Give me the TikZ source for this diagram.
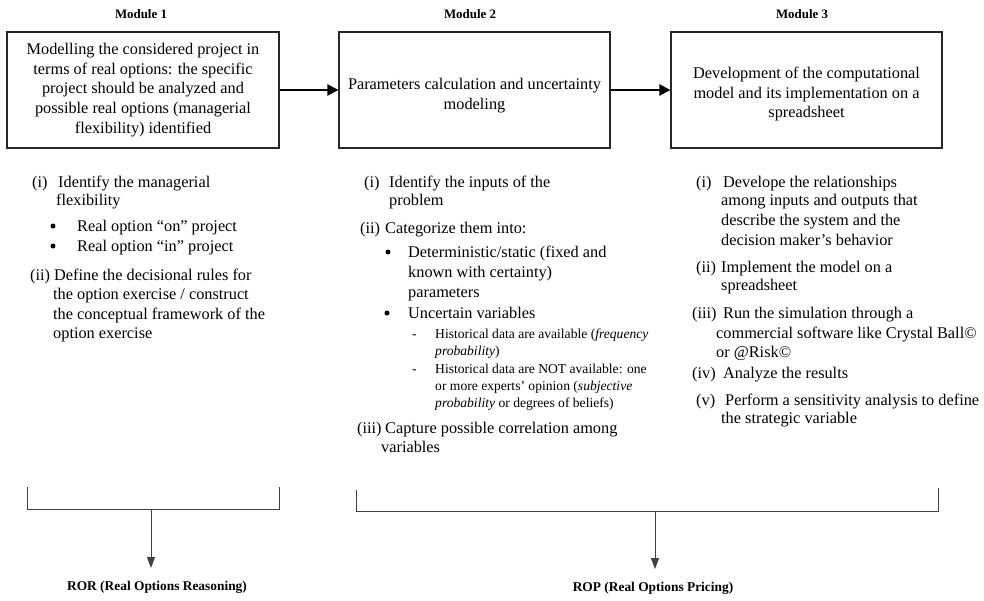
\documentclass[tikz,border=0pt]{standalone}
\usepackage{fontspec}
\setmainfont{Liberation Serif}
\usetikzlibrary{arrows.meta}
\tikzset{
  lt/.style={anchor=base west, inner sep=0pt, font=\fontsize{16.3}{19.7}\selectfont},
  st/.style={anchor=base west, inner sep=0pt, font=\fontsize{13.6}{17}\selectfont},
  bul/.style={circle, fill=black, inner sep=0pt, minimum size=5pt},
  modlabel/.style={anchor=base, inner sep=0pt, font=\bfseries\fontsize{12.9}{15}\selectfont},
  outlabel/.style={anchor=base, inner sep=0pt, font=\bfseries\fontsize{13.4}{15}\selectfont},
  modbox/.style={draw=black!85, line width=1.2pt, inner sep=0pt, align=center,
    minimum height=116pt, font=\fontsize{16.3}{19.7}\selectfont},
  bigarrow/.style={line width=2.4pt, -{Triangle[length=11pt,width=11pt]}},
  bracket/.style={draw=black!75, line width=1pt},
  downarrow/.style={draw=black!75, line width=1pt, -{Triangle[length=11pt,width=8pt]}}
}
\begin{document}
\begin{tikzpicture}[x=1pt,y=-1pt]
\useasboundingbox (0,0) rectangle (984,600);

% module labels
\node[modlabel] (mod1) at (141,18) {Module 1};
\node[modlabel] (mod2) at (470,18) {Module 2};
\node[modlabel] (mod3) at (802,18) {Module 3};

% boxes
\node[modbox, minimum width=272pt] (b1) at (143,90) {Modelling the considered project in\\terms of real options: the specific\\project should be analyzed and\\possible real options (managerial\\flexibility) identified};
\node[modbox, minimum width=271pt] (b2) at (474.5,90) {\rule{0pt}{22pt}Parameters calculation and uncertainty\\modeling};
\node[modbox, minimum width=271pt] (b3) at (806.5,90) {\rule{0pt}{20pt}Development of the computational\\model and its implementation on a\\spreadsheet};

\draw[bigarrow] (b1.east) -- (b2.west);
\draw[bigarrow] (b2.east) -- (b3.west);

% Module 1 list
\node[lt] (m1i) at (32,187) {(i)};
\node[lt] (m1ia) at (58,187) {Identify the managerial};
\node[lt] (m1ib) at (56,205) {flexibility};
\node[bul] (m1b1) at (53,226) {};
\node[lt] (m1b1t) at (77,231) {Real option “on” project};
\node[bul] (m1b2) at (53,246) {};
\node[lt] (m1b2t) at (77,251) {Real option “in” project};
\node[lt] (m1ii) at (30,280) {(ii)};
\node[lt] (m1iia) at (54,280) {Define the decisional rules for};
\node[lt] (m1iib) at (53,299) {the option exercise / construct};
\node[lt] (m1iic) at (53,319) {the conceptual framework of the};
\node[lt] (m1iid) at (53,338) {option exercise};

% Module 2 list
\node[lt] (m2i) at (364,187) {(i)};
\node[lt] (m2ia) at (389,187) {Identify the inputs of the};
\node[lt] (m2ib) at (389,205) {problem};
\node[lt] (m2ii) at (360,233) {(ii)};
\node[lt] (m2iia) at (385,233) {Categorize them into:};
\node[bul] (m2b1) at (388,252) {};
\node[lt] (m2b1a) at (408,257) {Deterministic/static (fixed and};
\node[lt] (m2b1b) at (408,277) {known with certainty)};
\node[lt] (m2b1c) at (408,297) {parameters};
\node[bul] (m2b2) at (387,313) {};
\node[lt] (m2b2a) at (408,318) {Uncertain variables};
\node[st] (m2d1) at (412,338) {-};
\node[st] (m2d1a) at (435,338) {Historical data are available (\textit{frequency}};
\node[st] (m2d1b) at (435,355) {\textit{probability})};
\node[st] (m2d2) at (412,373) {-};
\node[st] (m2d2a) at (435,373) {Historical data are NOT available: one};
\node[st] (m2d2b) at (435,390) {or more experts’ opinion (\textit{subjective}};
\node[st] (m2d2c) at (435,407) {\textit{probability} or degrees of beliefs)};
\node[lt] (m2iii) at (357,433) {(iii)};
\node[lt] (m2iiia) at (385,433) {Capture possible correlation among};
\node[lt] (m2iiib) at (381,452) {variables};

% Module 3 list
\node[lt] (m3i) at (696,187) {(i)};
\node[lt] (m3ia) at (723,187) {Develope the relationships};
\node[lt] (m3ib) at (721,205) {among inputs and outputs that};
\node[lt] (m3ic) at (721,225) {describe the system and the};
\node[lt] (m3id) at (721,245) {decision maker’s behavior};
\node[lt] (m3ii) at (696,272) {(ii)};
\node[lt] (m3iia) at (721,272) {Implement the model on a};
\node[lt] (m3iib) at (721,290) {spreadsheet};
\node[lt] (m3iii) at (692,318) {(iii)};
\node[lt] (m3iiia) at (723,318) {Run the simulation through a};
\node[lt] (m3iiib) at (716,338) {commercial software like Crystal Ball©};
\node[lt] (m3iiic) at (716,357) {or @Risk©};
\node[lt] (m3iv) at (692,378) {(iv)};
\node[lt] (m3iva) at (723,378) {Analyze the results};
\node[lt] (m3v) at (696,405) {(v)};
\node[lt] (m3va) at (725,405) {Perform a sensitivity analysis to define};
\node[lt] (m3vb) at (721,423) {the strategic variable};

% brackets
\coordinate (lbA) at (27,487);
\coordinate (lbB) at (27,509);
\coordinate (lbC) at (279,509);
\coordinate (lbD) at (279,487);
\coordinate (lbM) at (151,509);
\coordinate (lbT) at (151,568);
\draw[bracket] (lbA) -- (lbB) -- (lbC) -- (lbD);
\draw[downarrow] (lbM) -- (lbT);

\coordinate (rbA) at (356,490);
\coordinate (rbB) at (356,511);
\coordinate (rbC) at (938,511);
\coordinate (rbD) at (938,488);
\coordinate (rbM) at (655,511);
\coordinate (rbT) at (655,569);
\draw[bracket] (rbA) -- (rbB) -- (rbC) -- (rbD);
\draw[downarrow] (rbM) -- (rbT);

\node[outlabel] (ror) at (157,590) {ROR (Real Options Reasoning)};
\node[outlabel] (rop) at (653,591) {ROP (Real Options Pricing)};
\end{tikzpicture}
\end{document}
